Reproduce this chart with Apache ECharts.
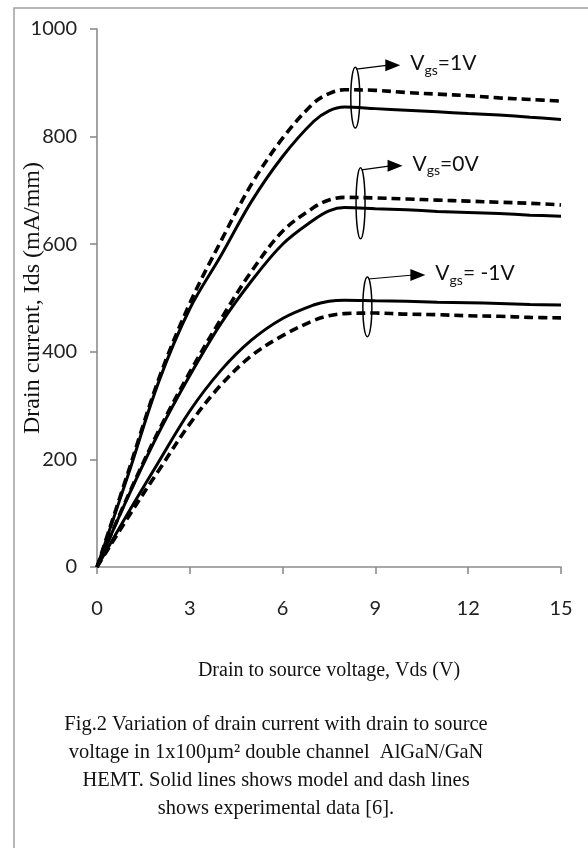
<!DOCTYPE html>
<html>
<head>
<meta charset="utf-8">
<script src="https://cdn.jsdelivr.net/npm/echarts@6/dist/echarts.min.js"></script>
<style>
  html, body { margin: 0; padding: 0; background: #fff; }
  #chart { width: 588px; height: 848px; }
</style>
</head>
<body>
<div id="chart"></div>
<script>
// drain voltage samples (V)
var vds = [0, 1, 2, 3, 4, 5, 6, 7, 7.5, 8, 9, 10, 11, 12, 13, 14, 15];
// drain current, mA/mm (solid = model, dash = experiment)
var model1V  = [0, 170, 345, 480, 578, 680, 763, 828, 848, 855, 852, 849, 846, 843, 840, 836, 832];
var exp1V    = [0, 175, 350, 490, 605, 712, 797, 862, 880, 887, 886, 882, 879, 876, 872, 869, 866];
var model0V  = [0, 130, 250, 356, 452, 532, 600, 645, 662, 668, 666, 664, 661, 659, 657, 654, 652];
var exp0V    = [0, 132, 254, 362, 460, 550, 624, 668, 682, 687, 686, 684, 682, 680, 678, 676, 673];
var modelM1V = [0, 100, 196, 290, 365, 422, 462, 487, 494, 496, 495, 494, 492, 491, 490, 488, 487];
var expM1V   = [0, 92, 180, 266, 338, 393, 430, 458, 467, 471, 472, 470, 469, 467, 466, 464, 463];

var xTicks = [0, 3, 6, 9, 12, 15];
var yTicks = [0, 200, 400, 600, 800, 1000];

// Vgs labels, ellipse around each pair of curves (data coords)
var gateLabels = ['1V', '0V', ' -1V'];
var ringX = [8.35, 8.52, 8.74];
var ringTop = [929, 742, 539];
var ringBottom = [816, 610, 428];
var arrowLen = [45, 42, 58];

var caption = [
    'Fig.2 Variation of drain current with drain to source',
    'voltage in 1x100\u00b5m\u00b2 double channel  AlGaN/GaN',
    'HEMT. Solid lines shows model and dash lines',
    'shows experimental data [6].'
];

function pairs(ys) {
    return vds.map(function (v, i) { return [v, ys[i]]; });
}

function curve(name, ys, dashed) {
    return {
        name: name,
        type: 'line',
        data: pairs(ys),
        smooth: 0.35,
        showSymbol: false,
        silent: true,
        lineStyle: {
            color: '#000',
            width: dashed ? 3.6 : 3,
            type: dashed ? [9, 5] : 'solid'
        }
    };
}

var chart = echarts.init(document.getElementById('chart'));
var tickFont = 'Lato';
chart.setOption({
    animation: false,
    backgroundColor: '#fff',
    grid: { left: 97, right: 27, top: 29, bottom: 281, outerBoundsMode: 'none', containLabel: false },
    xAxis: {
        type: 'value',
        min: xTicks[0],
        max: xTicks[xTicks.length - 1],
        interval: 3,
        splitLine: { show: false },
        axisLine: { lineStyle: { color: '#8c8c8c', width: 1.6 } },
        axisTick: { show: true, length: 7, lineStyle: { color: '#8c8c8c', width: 1.6 } },
        axisLabel: { margin: 32, color: '#222', fontSize: 20, fontFamily: tickFont },
        name: 'Drain to source voltage, Vds (V)',
        nameLocation: 'middle',
        nameGap: 94,
        nameMoveOverlap: false,
        nameTextStyle: { color: '#111', fontSize: 20, fontFamily: 'Liberation Serif' }
    },
    yAxis: {
        type: 'value',
        min: yTicks[0],
        max: yTicks[yTicks.length - 1],
        interval: 200,
        splitLine: { show: false },
        axisLine: { show: true, lineStyle: { color: '#8c8c8c', width: 1.6 } },
        axisTick: { show: true, length: 7, lineStyle: { color: '#8c8c8c', width: 1.6 } },
        axisLabel: {
            margin: 20, color: '#222', fontSize: 20, fontFamily: tickFont,
            formatter: function (v) { return String(v); }
        },
        name: 'Drain current, Ids (mA/mm)',
        nameLocation: 'middle',
        nameRotate: 90,
        nameGap: 52,
        nameMoveOverlap: false,
        nameTextStyle: { color: '#111', fontSize: 24, fontFamily: 'Liberation Serif' }
    },
    series: [
        curve('Vgs=1V model', model1V, false),
        curve('Vgs=1V exp', exp1V, true),
        curve('Vgs=0V model', model0V, false),
        curve('Vgs=0V exp', exp0V, true),
        curve('Vgs=-1V model', modelM1V, false),
        curve('Vgs=-1V exp', expM1V, true)
    ]
});

// annotations: rings, arrows, Vgs labels, frame and caption
var gfx = [];
gateLabels.forEach(function (lab, i) {
    var top = chart.convertToPixel({ gridIndex: 0 }, [ringX[i], ringTop[i]]);
    var bot = chart.convertToPixel({ gridIndex: 0 }, [ringX[i], ringBottom[i]]);
    var cx = top[0], cy = (top[1] + bot[1]) / 2, ry = (bot[1] - top[1]) / 2;
    gfx.push({
        type: 'ellipse', z: 100,
        shape: { cx: cx, cy: cy, rx: 4.5, ry: ry },
        style: { fill: null, stroke: '#000', lineWidth: 1.5 }
    });
    var x0 = cx + 1, y0 = top[1] + 2;
    var x1 = cx + arrowLen[i], y1 = top[1] - 2;
    gfx.push({
        type: 'line', z: 100,
        shape: { x1: x0, y1: y0, x2: x1 - 12, y2: y1 },
        style: { stroke: '#000', lineWidth: 1.2 }
    });
    gfx.push({
        type: 'polygon', z: 100,
        shape: { points: [[x1, y1], [x1 - 15, y1 - 6], [x1 - 15, y1 + 6]] },
        style: { fill: '#000' }
    });
    gfx.push({
        type: 'text', z: 100,
        x: x1 + 10, y: y1 - 2,
        style: {
            text: '{v|V}{s|gs}{v|=' + lab + '}',
            textVerticalAlign: 'middle',
            rich: {
                v: { fontSize: 21, fontFamily: tickFont, fill: '#111', lineHeight: 26 },
                s: { fontSize: 14, fontFamily: tickFont, fill: '#111', padding: [14, 0, 0, 0] }
            }
        }
    });
});

gfx.push({
    type: 'polyline', z: 1, silent: true,
    shape: { points: [[14, 848], [14, 8], [588, 8]] },
    style: { stroke: '#a0a0a0', lineWidth: 1.5, fill: null }
});

gfx.push({
    type: 'text', z: 100,
    x: 276, y: 710,
    scaleX: 0.93,
    style: {
        text: caption.join('\n'),
        font: '22px "Liberation Serif"',
        fill: '#111',
        textAlign: 'center',
        lineHeight: 28
    }
});

chart.setOption({ graphic: gfx });
</script>
</body>
</html>
